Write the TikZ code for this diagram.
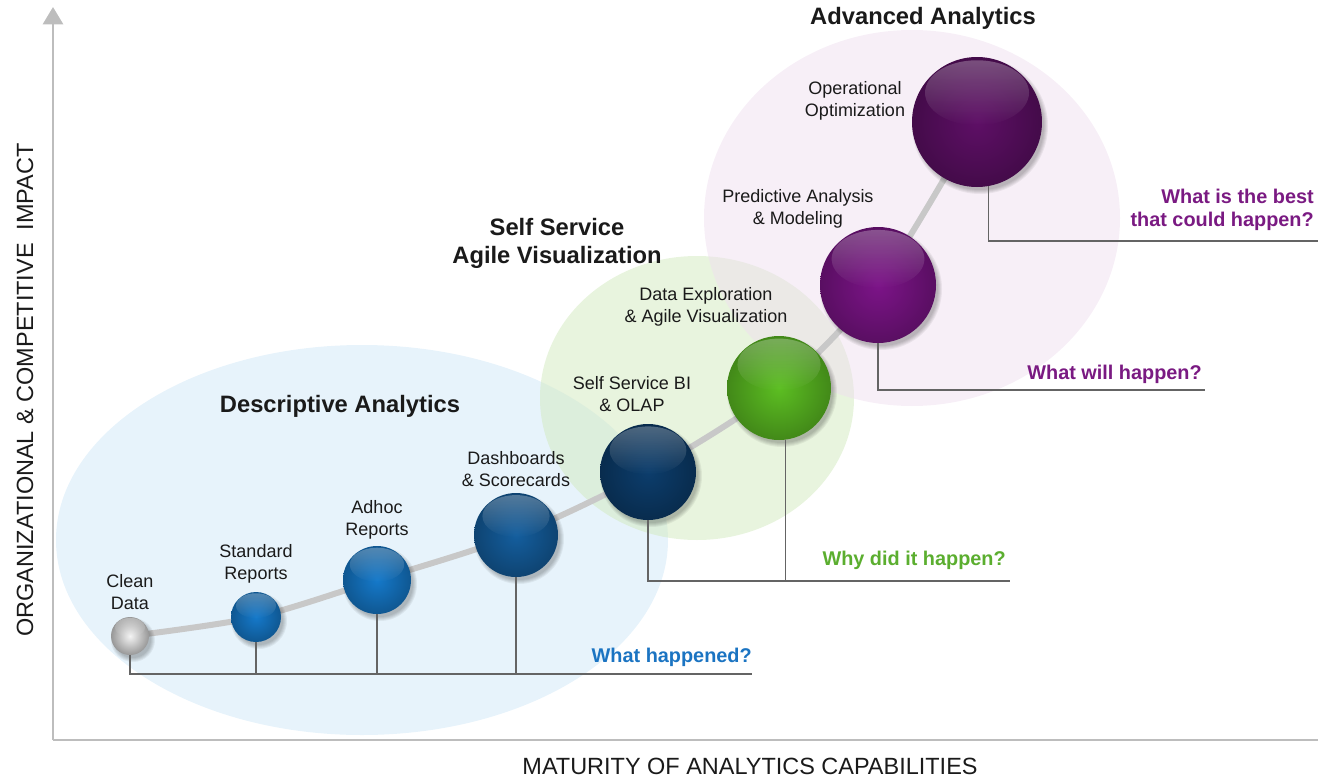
\documentclass[tikz,border=0pt]{standalone}
\usepackage{fontspec}
\setmainfont{Liberation Sans}
\usetikzlibrary{fadings,arrows.meta}

\definecolor{axisgray}{HTML}{BDBDBD}
\definecolor{linegray}{HTML}{646464}
\definecolor{pathgray}{HTML}{C8C8C8}
\definecolor{bgblue}{HTML}{CFE7F7}
\definecolor{bggreen}{HTML}{D1E9BD}
\definecolor{bgpink}{HTML}{EFDFEF}
\definecolor{qblue}{HTML}{1B74C2}
\definecolor{qgreen}{HTML}{5BAE2F}
\definecolor{qpurple}{HTML}{7A1A82}
\definecolor{cwhite}{HTML}{F4F4F4}
\definecolor{cblue}{HTML}{1579CA}
\definecolor{cblue2}{HTML}{145E9E}
\definecolor{cnavy}{HTML}{0C3D6C}
\definecolor{cgreen}{HTML}{5CBE22}
\definecolor{cpurple}{HTML}{7C1488}
\definecolor{cpurple2}{HTML}{5E0F66}
\definecolor{txt}{HTML}{1A1A1A}

\newcommand\glossyball[5]{%
  \begin{scope}[shift={(#2)}]
    \foreach \k in {1,...,5}{\fill[black,opacity=0.055] (3,4) circle ({#3-2+\k});}
    \shade[inner color=#4, outer color=#4!#5!black] (0,0) circle (#3);
    \fill[white, opacity=.28, path fading=south] (0,{-0.45*#3}) ellipse ({0.8*#3} and {0.5*#3});
    \node[ballnode, minimum size={1.5pt*#3}] (#1) at (0,0) {};
  \end{scope}}

\begin{document}
\begin{tikzpicture}[x=0.75pt, y=-0.75pt,
  ballnode/.style={circle, inner sep=0pt, outer sep=0pt},
  axisline/.style={axisgray, line width=2.2pt},
  drop/.style={linegray, line width=1.1pt},
  curveline/.style={pathgray, line width=4.5pt, line cap=round},
  lbl/.style={font=\fontsize{13.5}{16.5}\selectfont, align=center, text=txt, inner sep=0pt},
  ttl/.style={font=\fontsize{17.8}{21}\selectfont\bfseries, align=center, text=txt, inner sep=0pt},
  quest/.style={font=\fontsize{14.9}{17.25}\selectfont\bfseries, align=right, inner sep=0pt},
  axl/.style={font=\fontsize{17.6}{20}\selectfont, text=txt, inner sep=0pt}]
\useasboundingbox (0,0) rectangle (1318,778);

% background regions
\fill[bgblue, opacity=.5] (362,540) ellipse (306 and 195);
\fill[bggreen, opacity=.5] (697,398) ellipse (157 and 142);
\fill[bgpink, opacity=.5] (912,218) ellipse (208 and 188);

% axes
\coordinate (origin) at (53,740);
\coordinate (ytip) at (53,7);
\coordinate (xend) at (1318,740);
\draw[axisline, -{Triangle[width=15pt,length=13pt]}] (origin) -- (ytip);
\draw[axisline] (origin) -- (xend);
\node[axl, rotate=90] (ylab) at (25,390) {ORGANIZATIONAL \& COMPETITIVE\ \ IMPACT};
\node[axl] (xlab) at (750,766) {MATURITY OF ANALYTICS CAPABILITIES};

% ball centres
\coordinate (p1) at (130,636);
\coordinate (p2) at (256,617);
\coordinate (p3) at (377,580);
\coordinate (p4) at (516,535);
\coordinate (p5) at (648,472);
\coordinate (p6) at (779,388);
\coordinate (p7) at (878,285);
\coordinate (p8) at (977,122);
\draw[curveline] plot[smooth, tension=.5] coordinates {(p1) (p2) (p3) (p4) (p5) (p6) (p7) (p8)};

% question line ends
\coordinate (qa) at (752,674);
\coordinate (qb) at (1010,581);
\coordinate (qc) at (1205,390);
\coordinate (qd) at (1318,241);

\glossyball{b1}{p1}{19}{cwhite}{62}
\glossyball{b2}{p2}{25}{cblue}{72}
\glossyball{b3}{p3}{34}{cblue}{72}
\glossyball{b4}{p4}{42}{cblue2}{72}
\glossyball{b5}{p5}{48}{cnavy}{72}
\glossyball{b6}{p6}{52}{cgreen}{72}
\glossyball{b7}{p7}{58}{cpurple}{72}
\glossyball{b8}{p8}{65}{cpurple2}{72}

% drop lines
\draw[drop] (b1.south) |- (qa);
\draw[drop] (b2.south) -- (b2.south |- qa);
\draw[drop] (b3.south) -- (b3.south |- qa);
\draw[drop] (b4.south) -- (b4.south |- qa);
\draw[drop] (b5.south) |- (qb);
\draw[drop] (b6.-83) -- (b6.-83 |- qb);
\draw[drop] (b7.south) |- (qc);
\draw[drop] (b8.-80) |- (qd);

% questions
\node[quest, text=qblue, anchor=base east] (q1) at (752,662) {What happened?};
\node[quest, text=qgreen, anchor=base east] (q2) at (1006,565) {Why did it happen?};
\node[quest, text=qpurple, anchor=base east] (q3) at (1202,379) {What will happen?};
\node[quest, text=qpurple, anchor=east] (q4) at (1314,210) {What is the best\\that could happen?};

% titles
\node[ttl] (t1) at (340,406) {Descriptive Analytics};
\node[ttl] (t2) at (557,243) {Self Service\\Agile Visualization};
\node[ttl] (t3) at (923,18) {Advanced Analytics};

% ball labels
\node[lbl] (l1) at (130,592) {Clean\\Data};
\node[lbl] (l2) at (256,564) {Standard\\Reports};
\node[lbl] (l3) at (377,520) {Adhoc\\Reports};
\node[lbl] (l4) at (516,469) {Dashboards\\\& Scorecards};
\node[lbl] (l5) at (632,394) {Self Service BI\\\& OLAP};
\node[lbl] (l6) at (706,307) {Data Exploration\\\& Agile Visualization};
\node[lbl] (l7) at (798,209) {Predictive Analysis\\\& Modeling};
\node[lbl] (l8) at (855,101) {Operational\\Optimization};
\end{tikzpicture}
\end{document}
